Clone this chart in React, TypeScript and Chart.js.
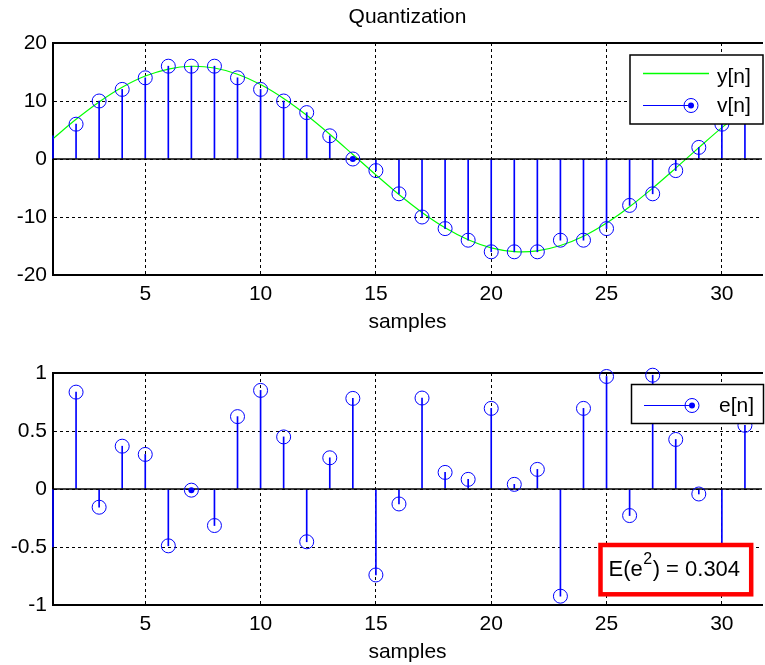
import React, { useEffect, useRef } from 'react';
import { Chart, registerables } from 'chart.js';

Chart.register(...registerables);

const FONT = "'Liberation Sans', Arial, Helvetica, sans-serif";

// ---------------- data ----------------
const samples = [1, 2, 3, 4, 5, 6, 7, 8, 9, 10, 11, 12, 13, 14, 15, 16, 17, 18, 19, 20, 21, 22, 23, 24, 25, 26, 27, 28, 29, 30, 31];
const quantized = [4, 6, 10, 12, 14, 16, 16, 16, 14, 12, 10, 8, 4, 0, -2, -6, -10, -12, -14, -16, -16, -16, -14, -14, -12, -8, -6, -2, 2, 6, 8];
const quantError = [-0.5, 0.835, -0.157, 0.369, 0.298, -0.49, -0.01, -0.315, 0.624, 0.85, 0.449, -0.455, 0.269, 0.781, -0.741, -0.129, 0.784, 0.143, 0.083, 0.695, 0.04, 0.169, -0.924, 0.695, 0.97, -0.229, 0.981, 0.427, -0.043, -0.59, 0.549];
const curveSamples = [1, 2, 3, 4, 5, 6, 7, 8, 9, 10, 11, 12, 13, 14, 15, 16, 17, 18, 19, 20, 21, 22, 23, 24, 25, 26, 27, 28, 29, 30, 31, 32];
const curveValues = [3.5, 6.84, 9.84, 12.37, 14.3, 15.51, 15.99, 15.69, 14.62, 12.85, 10.45, 7.55, 4.27, 0.78, -2.74, -6.13, -9.22, -11.86, -13.92, -15.31, -15.96, -15.83, -14.92, -13.31, -11.03, -8.23, -5.02, -1.57, 1.96, 5.41, 8.55, 11.3];
const xTicks = [5, 10, 15, 20, 25, 30];
const topYTicks = [-20, -10, 0, 10, 20];
const bottomYTicks = [-1, -0.5, 0, 0.5, 1];
const xRange = [1, 31.74];
const topYRange = [-20, 20];
const bottomYRange = [-1, 1];
const topDotSamples = [14];
const bottomDotSamples = [7];
const topTitle = 'Quantization';
const xLabel = 'samples';
const topLegendLabels = ['y[n]', 'v[n]'];
const bottomLegendLabels = ['e[n]'];
const energyParts = ['E(e', '2', ') = 0.304'];

// ---------------- styles ----------------
const BLUE = '#0000ff';
const GREEN = '#00ff00';
const DASH = [3, 3];

function drawMarker(ctx: CanvasRenderingContext2D, x: number, y: number) {
  ctx.beginPath();
  ctx.arc(x, y, 7, 0, Math.PI * 2);
  ctx.strokeStyle = BLUE;
  ctx.lineWidth = 1;
  ctx.stroke();
  ctx.beginPath();
  ctx.arc(x, y, 3, 0, Math.PI * 2);
  ctx.fillStyle = BLUE;
  ctx.fill();
}

const topLegendPlugin = {
  id: 'topLegend',
  afterDraw(chart: any) {
    const ctx: CanvasRenderingContext2D = chart.ctx;
    ctx.save();
    ctx.fillStyle = '#fff';
    ctx.fillRect(630, 55, 133, 69);
    ctx.strokeStyle = '#000';
    ctx.lineWidth = 1.5;
    ctx.strokeRect(630, 55, 133, 69);
    ctx.lineWidth = 1.5;
    ctx.strokeStyle = GREEN;
    ctx.beginPath();
    ctx.moveTo(643, 73.5);
    ctx.lineTo(709, 73.5);
    ctx.stroke();
    ctx.lineWidth = 1;
    ctx.strokeStyle = BLUE;
    ctx.beginPath();
    ctx.moveTo(643, 105.5);
    ctx.lineTo(691, 105.5);
    ctx.stroke();
    drawMarker(ctx, 691, 105.5);
    ctx.fillStyle = '#000';
    ctx.font = `21px ${FONT}`;
    ctx.textAlign = 'left';
    ctx.textBaseline = 'middle';
    ctx.fillText(topLegendLabels[0], 717, 77);
    ctx.fillText(topLegendLabels[1], 717, 106);
    ctx.restore();
  },
};

const bottomLegendPlugin = {
  id: 'bottomLegend',
  afterDraw(chart: any) {
    const ctx: CanvasRenderingContext2D = chart.ctx;
    ctx.save();
    // legend
    ctx.fillStyle = '#fff';
    ctx.fillRect(631.5, 49.5, 132, 39);
    ctx.strokeStyle = '#000';
    ctx.lineWidth = 1.5;
    ctx.strokeRect(631.5, 49.5, 132, 39);
    ctx.lineWidth = 1;
    ctx.strokeStyle = BLUE;
    ctx.beginPath();
    ctx.moveTo(644, 70.5);
    ctx.lineTo(692, 70.5);
    ctx.stroke();
    drawMarker(ctx, 692, 70.5);
    ctx.fillStyle = '#000';
    ctx.font = `21px ${FONT}`;
    ctx.textAlign = 'left';
    ctx.textBaseline = 'middle';
    ctx.fillText(bottomLegendLabels[0], 719, 71.5);
    // energy box
    ctx.fillStyle = '#fff';
    ctx.fillRect(600.5, 210, 150.7, 49.3);
    ctx.strokeStyle = '#ff0000';
    ctx.lineWidth = 4.5;
    ctx.strokeRect(600.5, 210, 150.7, 49.3);
    ctx.fillStyle = '#000';
    ctx.font = `22px ${FONT}`;
    let x = 608.5;
    ctx.fillText(energyParts[0], x, 235);
    x += ctx.measureText(energyParts[0]).width + 0.5;
    ctx.font = `16px ${FONT}`;
    ctx.fillText(energyParts[1], x, 225);
    x += ctx.measureText(energyParts[1]).width + 0.5;
    ctx.font = `22px ${FONT}`;
    ctx.fillText(energyParts[2], x, 235);
    ctx.restore();
  },
};

function buildChart(
  canvas: HTMLCanvasElement,
  stemValues: number[],
  yRange: number[],
  yTicks: number[],
  topHeight: number,
  title: string | null,
  dotSamples: number[],
  curve: { x: number[]; y: number[] } | null,
  plugin: any
) {
  const tickFont = { family: FONT, size: 21 };
  const stemData = samples.map((n, i) => ({ x: n, y: stemValues[i] }));
  const datasets: any[] = [
    {
      type: 'scatter',
      label: 'markers',
      data: stemData,
      showLine: false,
      pointRadius: (c: any) => (c.dataIndex === 0 ? 0 : 7),
      pointBorderColor: BLUE,
      pointBackgroundColor: 'rgba(0,0,0,0)',
      pointBorderWidth: 1,
      clip: false,
      order: 0,
    },
    {
      type: 'scatter',
      label: 'dots',
      data: dotSamples.map((n) => ({ x: n, y: stemValues[samples.indexOf(n)] })),
      showLine: false,
      pointRadius: 3,
      pointBorderWidth: 0,
      pointBackgroundColor: BLUE,
      pointBorderColor: BLUE,
      order: 0,
    },
    {
      type: 'line',
      label: 'baseline',
      data: [
        { x: xRange[0], y: 0 },
        { x: xRange[1], y: 0 },
      ],
      borderColor: '#000',
      borderWidth: 1.5,
      pointRadius: 0,
      showLine: true,
      fill: false,
      order: 1,
    },
    {
      type: 'bar',
      label: 'stems',
      data: stemData,
      backgroundColor: BLUE,
      borderWidth: 0,
      barThickness: 1,
      grouped: false,
      clip: false,
      order: 2,
    },
  ];
  if (curve) {
    datasets.push({
      type: 'line',
      label: 'curve',
      data: curve.x.map((n, i) => ({ x: n, y: curve.y[i] })),
      borderColor: GREEN,
      borderWidth: 1.2,
      pointRadius: 0,
      tension: 0.33,
      showLine: true,
      fill: false,
      order: 3,
    });
  }

  const fmt = (v: number) => String(v);

  return new Chart(canvas, {
    type: 'scatter',
    data: { datasets },
    plugins: [plugin],
    options: {
      animation: false,
      responsive: false,
      events: [],
      layout: { padding: { left: 0, right: 4, top: 0, bottom: 0 } },
      plugins: { legend: { display: false }, tooltip: { enabled: false }, title: { display: false } },
      scales: {
        x: {
          type: 'linear',
          position: 'bottom',
          min: xRange[0],
          max: xRange[1],
          offset: false,
          afterBuildTicks: (s: any) => {
            s.ticks = xTicks.map((v) => ({ value: v }));
          },
          afterFit: (s: any) => {
            s.height = 60;
          },
          ticks: { padding: 7, font: tickFont, color: '#000', maxRotation: 0, autoSkip: false, callback: fmt },
          grid: { color: '#000', lineWidth: 1, drawTicks: false, offset: false },
          border: { display: true, color: '#000', width: 2, dash: DASH },
          title: { display: true, text: xLabel, font: tickFont, color: '#000', padding: { top: 0, bottom: 0 } },
        },
        x2: {
          type: 'linear',
          position: 'top',
          min: xRange[0],
          max: xRange[1],
          offset: false,
          afterFit: (s: any) => {
            s.height = topHeight;
          },
          ticks: { display: false },
          grid: { display: false, drawTicks: false, offset: false },
          border: { display: true, color: '#000', width: 2 },
          title: title
            ? { display: true, text: title, font: tickFont, color: '#000', padding: { top: 5, bottom: 0 } }
            : { display: false },
        },
        y: {
          type: 'linear',
          position: 'left',
          min: yRange[0],
          max: yRange[1],
          afterBuildTicks: (s: any) => {
            s.ticks = yTicks.map((v) => ({ value: v }));
          },
          afterFit: (s: any) => {
            s.width = 53;
          },
          ticks: { padding: 6, font: tickFont, color: '#000', callback: fmt },
          grid: { color: '#000', lineWidth: 1, drawTicks: false },
          border: { display: true, color: '#000', width: 2, dash: DASH },
        },
      },
    } as any,
  });
}

export default function App() {
  const topRef = useRef<HTMLCanvasElement>(null);
  const bottomRef = useRef<HTMLCanvasElement>(null);

  useEffect(() => {
    const top = buildChart(
      topRef.current!,
      quantized,
      topYRange,
      topYTicks,
      43,
      topTitle,
      topDotSamples,
      { x: curveSamples, y: curveValues },
      topLegendPlugin
    );
    const bottom = buildChart(
      bottomRef.current!,
      quantError,
      bottomYRange,
      bottomYTicks,
      38,
      null,
      bottomDotSamples,
      null,
      bottomLegendPlugin
    );
    return () => {
      top.destroy();
      bottom.destroy();
    };
  }, []);

  return (
    <div
      style={{
        position: 'fixed',
        left: 0,
        top: 0,
        width: 765,
        height: 665,
        overflow: 'hidden',
        background: '#fff',
      }}
    >
      <canvas
        ref={topRef}
        width={770}
        height={335}
        style={{ position: 'absolute', left: 0, top: 0, width: 770, height: 335 }}
      />
      <canvas
        ref={bottomRef}
        width={770}
        height={330}
        style={{ position: 'absolute', left: 0, top: 335, width: 770, height: 330 }}
      />
    </div>
  );
}
